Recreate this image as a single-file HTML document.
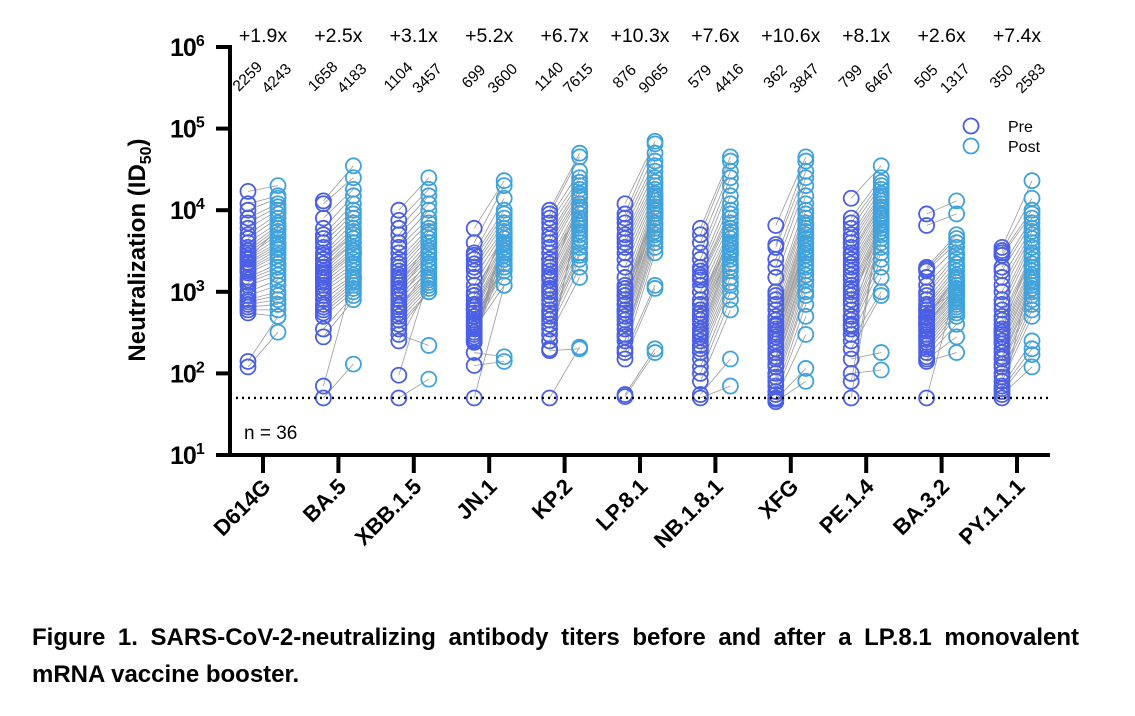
<!DOCTYPE html>
<html><head><meta charset="utf-8"><style>
html,body{margin:0;padding:0;background:#fff;}
svg{display:block;font-family:"Liberation Sans",Arial,sans-serif;}
</style></head><body>
<svg id="chart" width="1135" height="716" viewBox="0 0 1135 716" xmlns="http://www.w3.org/2000/svg">
<g id="lines"></g>
<g id="pts"></g>
<g id="axes"></g>
<g id="labels"></g>
<g>
<circle cx="971" cy="126" r="7.5" fill="none" stroke="#4a5ee6" stroke-width="1.8"/>
<text x="1008" y="132" font-size="16">Pre</text>
<circle cx="971" cy="146" r="7.5" fill="none" stroke="#3fa2dc" stroke-width="1.8"/>
<text x="1008" y="152" font-size="16">Post</text>
</g>
<text x="244" y="439" font-size="19">n = 36</text>
<text id="cap1" x="32" y="645" font-size="24" font-weight="bold">Figure 1. SARS-CoV-2-neutralizing antibody titers before and after a LP.8.1 monovalent</text>
<text x="32" y="682" font-size="24" font-weight="bold">mRNA vaccine booster.</text>
</svg>
<script>
const categories=["D614G","BA.5","XBB.1.5","JN.1","KP.2","LP.8.1","NB.1.8.1","XFG","PE.1.4","BA.3.2","PY.1.1.1"];
const foldLabels=["+1.9x","+2.5x","+3.1x","+5.2x","+6.7x","+10.3x","+7.6x","+10.6x","+8.1x","+2.6x","+7.4x"];
const gmtPre=[2259,1658,1104,699,1140,876,579,362,799,505,350];
const gmtPost=[4243,4183,3457,3600,7615,9065,4416,3847,6467,1317,2583];
const yTicks=[1,2,3,4,5,6];
const limitOfDetection=50;
const preD614G=[17000,12000,10000,8000,7000,6000,5000,4500,4000,3500,3200,3000,2800,2600,2500,2300,2200,2000,1900,1800,1700,1500,1400,1300,1200,1000,900,800,750,700,650,600,550,140,120,2500];
const postD614G=[20000,15000,14000,12000,11000,10000,9000,8000,7000,6500,6000,5500,5000,4500,4000,3800,3500,3300,3000,2800,2500,2200,2000,1800,1600,1400,1200,1000,900,800,700,600,500,500,320,6000];
const preBA5=[13000,12000,8000,6000,5000,4500,4000,3500,3000,2800,2500,2200,2000,1800,1700,1600,1500,1400,1300,1200,1100,1000,900,800,700,650,600,550,500,350,280,70,50,2000,2500,1500];
const postBA5=[35000,25000,18000,15000,12000,10000,9000,8000,7000,6000,5500,5000,4500,4000,3500,3200,3000,2800,2500,2200,2000,1800,1600,1500,1400,1300,1200,1100,1000,900,800,1500,130,4000,5000,3000];
const preXBB=[10000,7500,6000,5000,4000,3500,3000,2500,2200,2000,1800,1600,1500,1400,1300,1200,1100,1000,900,800,700,650,600,550,500,450,400,350,300,250,95,50,1000,1200,800,600];
const postXBB=[25000,18000,15000,12000,10000,8000,7000,6000,5500,5000,4500,4000,3500,3200,3000,2800,2500,2200,2000,1800,1600,1500,1400,1300,1200,1100,1000,1000,220,1200,1500,85,3000,4000,2500,2000];
const preJN1=[6000,4000,3000,2800,2500,2200,2000,1800,1500,1200,1000,900,800,700,650,600,550,500,450,420,400,380,350,320,300,280,260,250,240,180,125,50,700,600,500,900];
const postJN1=[23000,20000,14000,10000,9000,8000,7000,6000,5500,5000,4500,4000,3800,3500,3200,3000,2800,2500,2200,2000,1800,1500,1200,3000,4000,5000,2500,3500,4500,160,140,1200,6000,3000,2000,5000];
const preKP2=[10000,9000,8000,7000,6000,5000,4500,4000,3500,3000,2500,2200,2000,1800,1600,1400,1200,1100,1000,900,800,700,600,550,500,450,400,350,300,250,200,190,50,1500,1000,2500];
const postKP2=[50000,45000,30000,25000,22000,20000,18000,16000,15000,14000,12000,11000,10000,9000,8000,7500,7000,6500,6000,5500,5000,4500,4000,3500,3000,2800,2500,2000,1500,8000,10000,200,210,12000,6000,9000];
const preLP81=[12000,9000,8000,7000,6000,5000,4500,4000,3500,3000,2500,2000,1500,1200,1000,900,800,700,600,550,500,450,400,350,300,280,250,200,180,150,55,52,900,1100,700,600];
const postLP81=[70000,65000,50000,40000,35000,30000,25000,22000,20000,18000,16000,15000,14000,13000,12000,11000,10000,9000,8000,7000,6500,6000,5500,5000,4500,4000,3500,3000,1200,1100,200,180,9000,10000,8000,12000];
const preNB=[6000,5000,4000,3000,2500,2000,1800,1600,1500,1400,1200,1000,800,700,600,550,500,450,400,350,320,300,280,250,220,200,180,150,120,100,80,55,50,600,700,500];
const postNB=[45000,40000,30000,25000,20000,15000,12000,10000,9000,8000,7000,6000,5500,5000,4500,4000,3800,3500,3200,3000,2800,2500,2200,2000,1800,1500,1300,1200,1000,800,600,150,70,5000,6000,3000];
const preXFG=[6500,3800,3500,2500,2000,1500,1000,900,800,700,600,500,450,400,380,350,320,300,280,250,230,200,180,160,150,130,120,100,90,80,70,60,55,50,48,45];
const postXFG=[45000,40000,30000,25000,20000,15000,12000,10000,9000,8000,7000,6500,6000,5500,5000,4500,4000,3800,3500,3200,3000,2800,2500,2200,2000,1800,1600,1400,1200,1000,900,700,500,300,115,80];
const prePE=[14000,8000,7000,6000,5000,4500,4000,3500,3000,2800,2500,2200,2000,1800,1600,1400,1200,1100,1000,900,800,600,500,450,400,380,350,300,250,200,150,100,80,50,700,500];
const postPE=[35000,25000,22000,20000,18000,16000,15000,14000,13000,12000,11000,10000,9000,8500,8000,7500,7000,6500,6000,5500,5000,4500,4000,3500,3000,2500,2000,1500,1000,900,180,110,8000,9000,7000,6000];
const preBA32=[9000,6500,2000,1900,1800,1500,1200,1000,900,800,700,650,600,550,500,480,450,420,400,380,350,330,300,280,260,240,220,200,180,160,150,140,50,500,600,400];
const postBA32=[13000,9000,5000,4500,4000,3500,3000,2800,2500,2200,2000,1800,1600,1500,1400,1300,1200,1100,1000,950,900,850,800,750,700,650,600,550,500,400,280,180,1200,1500,1000,1100];
const prePY=[3500,3200,3000,2800,2000,1800,1500,1200,1000,800,700,600,500,450,400,350,320,300,280,250,230,200,180,160,150,130,120,100,90,80,70,65,60,55,50,350];
const postPY=[23000,14000,10000,9000,8000,7000,6000,5500,5000,4500,4000,3500,3000,2800,2500,2200,2000,1800,1600,1500,1400,1300,1200,1100,1000,900,800,700,600,500,250,200,170,120,2000,3000];
const preSeries=[preD614G,preBA5,preXBB,preJN1,preKP2,preLP81,preNB,preXFG,prePE,preBA32,prePY];
const postSeries=[postD614G,postBA5,postXBB,postJN1,postKP2,postLP81,postNB,postXFG,postPE,postBA32,postPY];

const NS="http://www.w3.org/2000/svg";
const axX=230, axY=455, axRight=1050;
const decadePx=81.6;
function yScale(v){return axY-(Math.log10(v)-1)*decadePx;}
function xScale(i){return 263+i*75.4;}
function mk(tag,attrs,parent,text){const e=document.createElementNS(NS,tag);for(const k in attrs)e.setAttribute(k,attrs[k]);if(text!==undefined)e.textContent=text;parent.appendChild(e);return e;}
const gL=document.getElementById('lines'),gP=document.getElementById('pts'),gA=document.getElementById('axes'),gT=document.getElementById('labels');
const PRE="#4a5ee6",POST="#3fa2dc";
categories.forEach((c,i)=>{
  const cx=xScale(i),px=cx-15,qx=cx+15;
  const pre=preSeries[i],post=postSeries[i];
  const n=Math.min(pre.length,post.length);
  for(let j=0;j<n;j++){
    const l=mk('line',{x1:px,y1:yScale(pre[j]),x2:qx,y2:yScale(post[j]),stroke:"#9a9a9a","stroke-width":0.8},gL);
    
    
  }
  pre.forEach(v=>{const e=mk('circle',{cx:px,cy:yScale(v),r:7.5,fill:"none",stroke:PRE,"stroke-width":1.8},gP);
    
    });
  post.forEach(v=>{const e=mk('circle',{cx:qx,cy:yScale(v),r:7.5,fill:"none",stroke:POST,"stroke-width":1.8},gP);
    
    });
  const f=mk('text',{x:cx,y:42,"font-size":19.5,"text-anchor":"middle"},gT,foldLabels[i]);
  
  
  const a=mk('text',{x:0,y:0,"font-size":15.5,"text-anchor":"middle",transform:`translate(${cx-12},80) rotate(-45)`},gT,String(gmtPre[i]));
  
  
  const b=mk('text',{x:0,y:0,"font-size":15.5,"text-anchor":"middle",transform:`translate(${cx+17},82) rotate(-45)`},gT,String(gmtPost[i]));
  
  
  const t=mk('line',{x1:cx,y1:axY,x2:cx,y2:473,stroke:"#000","stroke-width":4},gA);
  
  
  const xl=mk('text',{x:0,y:0,"font-size":22,"font-weight":"bold","text-anchor":"end",transform:`translate(${cx+9},488) rotate(-45)`},gT,c);
  
  
});
const lod=mk('line',{x1:axX,y1:yScale(limitOfDetection),x2:axRight,y2:yScale(limitOfDetection),stroke:"#000","stroke-width":2.4,"stroke-dasharray":"2 4"},gA);


const ya=mk('line',{x1:axX,y1:yScale(1e6)-2,x2:axX,y2:axY+2,stroke:"#000","stroke-width":4},gA);


const xa=mk('line',{x1:axX-2,y1:axY,x2:axRight,y2:axY,stroke:"#000","stroke-width":4},gA);


yTicks.forEach(p=>{
  const y=yScale(Math.pow(10,p));
  const t=mk('line',{x1:216,y1:y,x2:axX,y2:y,stroke:"#000","stroke-width":4},gA);
  
  
  const tx=mk('text',{x:170,y:y+9,"font-size":25,"font-weight":"bold","letter-spacing":"-1"},gT);
  
  
  mk('tspan',{},tx,"10");
  mk('tspan',{dy:-10,"font-size":16},tx,String(p));
});
const yt=mk('text',{x:0,y:0,"font-size":24,"font-weight":"bold","text-anchor":"middle",transform:"translate(145,250) rotate(-90)"},gT);


mk('tspan',{},yt,"Neutralization (ID");
mk('tspan',{dy:6,"font-size":16},yt,"50");
mk('tspan',{dy:-6},yt,")");
const cap=document.getElementById('cap1');
const extra=1053-cap.getComputedTextLength();
if(extra>0){cap.setAttribute('word-spacing',(extra/11).toFixed(2));}
</script>
</body></html>
